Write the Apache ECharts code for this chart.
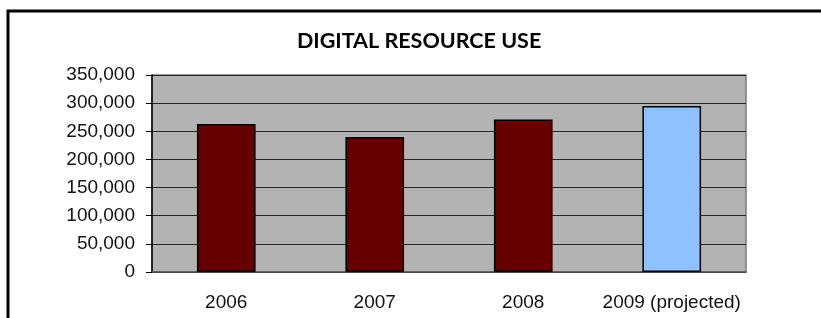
<!DOCTYPE html>
<html>
<head>
<meta charset="utf-8">
<script src="https://cdn.jsdelivr.net/npm/echarts@6/dist/echarts.min.js"></script>
<style>
  html, body { margin: 0; padding: 0; background: #fff; }
  #main { width: 821px; height: 318px; }
</style>
</head>
<body>
<div id="main"></div>
<script>
// chart data
var years = ['2006', '2007', '2008', '2009 (projected)'];
var uses = [263000, 240000, 271000, 295000];
var projected = [false, false, false, true];
var yTicks = [0, 50000, 100000, 150000, 200000, 250000, 300000, 350000];

var myChart = echarts.init(document.getElementById('main'));

function withCommas(v) {
	return String(v).replace(/\B(?=(\d{3})+(?!\d))/g, ',');
}

var barData = uses.map(function(v, i) {
	return {
		value : v,
		itemStyle : {
			color : projected[i] ? '#8fc1ff' : '#660000'
		}
	};
});

var option = {
	animation : false,
	backgroundColor : '#fff',
	title : {
		text : 'DIGITAL RESOURCE USE',
		left : 292,
		top : 25,
		textStyle : {
			fontFamily : 'Lato',
			fontWeight : 'bold',
			fontSize : 21.5,
			color : '#000'
		}
	},
	graphic : [ {
		type : 'rect',
		shape : { x : 8, y : 11, width : 900, height : 400 },
		style : { fill : 'none', stroke : '#000', lineWidth : 3 },
		silent : true
	} ],
	grid : {
		left : 152,
		right : 75,
		top : 75,
		bottom : 46,
		show : true,
		backgroundColor : '#b3b3b3',
		borderColor : '#7a7a7a',
		borderWidth : 1.5
	},
	xAxis : {
		type : 'category',
		data : years,
		axisLine : { lineStyle : { color : '#555', width : 1.5 } },
		axisTick : { length : 6, interval : 0, lineStyle : { color : '#000' } },
		axisLabel : {
			interval : 0,
			margin : 21,
			fontFamily : 'Liberation Sans',
			fontSize : 19,
			lineHeight : 19,
			color : '#111'
		}
	},
	yAxis : {
		type : 'value',
		min : yTicks[0],
		max : yTicks[yTicks.length - 1],
		interval : yTicks[1] - yTicks[0],
		axisLine : { show : true, lineStyle : { color : '#000', width : 1.5 } },
		axisTick : { show : true, length : 6, lineStyle : { color : '#000' } },
		splitLine : { lineStyle : { color : '#262626', width : 1 } },
		axisLabel : {
			margin : 17,
			fontFamily : 'Liberation Sans',
			fontSize : 19,
			color : '#111',
			formatter : withCommas
		}
	},
	series : [ {
		type : 'bar',
		data : barData,
		barWidth : '39.5%',
		itemStyle : { borderColor : '#000', borderWidth : 1.5 }
	} ]
};
myChart.setOption(option);
</script>
</body>
</html>
